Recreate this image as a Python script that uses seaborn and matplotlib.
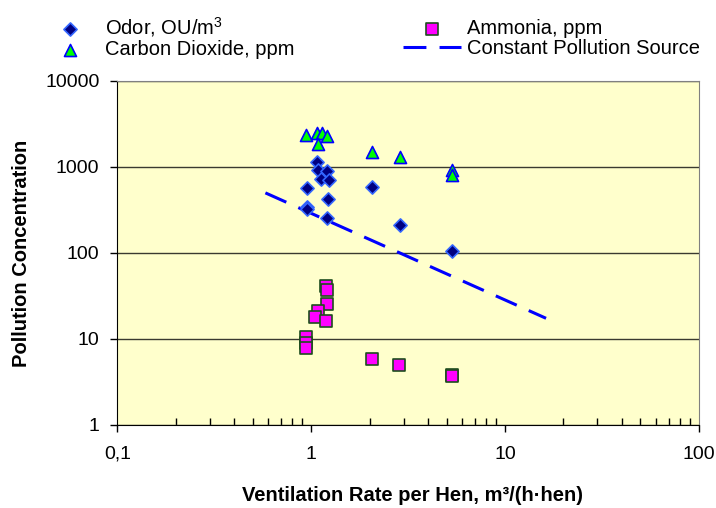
import numpy as np
import matplotlib
matplotlib.use('Agg')
import matplotlib.pyplot as plt
from matplotlib.ticker import FixedLocator, FixedFormatter, LogLocator, NullFormatter
import seaborn as sns

# data (log-log scatter)
odor_x = [1.07, 1.08, 1.20, 1.12, 1.23, 0.95, 2.07, 1.22, 0.95, 0.95, 1.20, 2.87, 5.36]
odor_y = [1150, 920, 900, 720, 705, 575, 590, 420, 345, 325, 253, 212, 106]

co2_x = [0.945, 1.07, 1.14, 1.21, 1.09, 2.07, 2.87, 5.36, 5.36]
co2_y = [2355, 2505, 2466, 2312, 1836, 1483, 1297, 923, 807]

nh3_x = [1.19, 1.21, 1.21, 1.08, 1.05, 1.19, 0.945, 0.945, 0.945, 2.06, 2.83, 5.32, 5.32]
nh3_y = [41.7, 37, 25.5, 21.3, 17.9, 16.3, 10.6, 9.05, 7.8, 5.9, 5.0, 3.8, 3.7]

line_x = [0.58, 16.3]
line_y = [500, 17.4]

x_ticks = [0.1, 1, 10, 100]
x_labels = ['0,1', '1', '10', '100']
y_ticks = [1, 10, 100, 1000, 10000]
y_labels = ['1', '10', '100', '1000', '10000']

plt.rcParams['font.family'] = ['Liberation Sans', 'DejaVu Sans']
plt.rcParams['mathtext.fontset'] = 'custom'
plt.rcParams['mathtext.rm'] = 'Liberation Sans'
plt.rcParams['mathtext.bf'] = 'Liberation Sans:bold'

fig, ax = plt.subplots(figsize=(7.16, 5.08), dpi=100)
fig.subplots_adjust(left=0.1641, right=0.9758, bottom=0.1634, top=0.8406)
ax.set_facecolor('#FFFFCC')

sns.lineplot(x=line_x, y=line_y, ax=ax, color='#0000FF', linewidth=2.2,
             linestyle=(0, (7.5, 4.3)), label='Constant Pollution Source', zorder=2)
sns.scatterplot(x=odor_x, y=odor_y, ax=ax, marker='D', s=45, color='#000080',
                edgecolor='#3366FF', linewidth=1.2, label='Odor, OU/m$^3$', zorder=3)
sns.scatterplot(x=nh3_x, y=nh3_y, ax=ax, marker='s', s=68, color='#FF00FF',
                edgecolor='#1E4D1E', linewidth=1.2, label='Ammonia, ppm', zorder=3)
sns.scatterplot(x=co2_x, y=co2_y, ax=ax, marker='^', s=75, color='#00FF00',
                edgecolor='#0000FF', linewidth=1.2, label='Carbon Dioxide, ppm', zorder=3)

ax.set_xscale('log')
ax.set_yscale('log')
ax.set_xlim(0.1, 100)
ax.set_ylim(1, 10000)

ax.xaxis.set_major_locator(FixedLocator(x_ticks))
ax.xaxis.set_major_formatter(FixedFormatter(x_labels))
ax.xaxis.set_minor_locator(LogLocator(base=10, subs=np.arange(2, 10)))
ax.xaxis.set_minor_formatter(NullFormatter())
ax.yaxis.set_major_locator(FixedLocator(y_ticks))
ax.yaxis.set_major_formatter(FixedFormatter(y_labels))
ax.yaxis.set_minor_locator(FixedLocator([]))

ax.tick_params(axis='x', which='major', direction='out', length=5, width=1, pad=10, labelsize=14)
ax.tick_params(axis='x', which='minor', direction='in', length=5, width=1)
ax.tick_params(axis='y', which='major', direction='out', length=5, width=1, pad=8, labelsize=14)

ax.grid(axis='y', which='major', color='#3a3a30', linewidth=1)
ax.grid(axis='x', visible=False)
ax.set_axisbelow(True)

for side in ['top', 'right']:
    ax.spines[side].set_color('#808080')
for side in ['left', 'bottom']:
    ax.spines[side].set_color('#000000')

ax.set_xlabel('Ventilation Rate per Hen, m³/(h·hen)', fontsize=14.5, fontweight='bold')
ax.set_ylabel('Pollution Concentration', fontsize=14.5, fontweight='bold')
ax.xaxis.set_label_coords(0.508, -0.176)
ax.yaxis.set_label_coords(-0.149, 0.5)

handles, labels = ax.get_legend_handles_labels()
order = [labels.index(l) for l in ['Odor, OU/m$^3$', 'Carbon Dioxide, ppm',
                                   'Ammonia, ppm', 'Constant Pollution Source']]
ax.get_legend().remove()
fig.legend([handles[i] for i in order], [labels[i] for i in order],
           loc='upper left', bbox_to_anchor=(41 / 716, 1 - 15 / 508), ncol=2,
           frameon=False, fontsize=14.5, borderpad=0, borderaxespad=0,
           handlelength=2.9, handletextpad=0.3, columnspacing=5.35, labelspacing=0.05)

fig.savefig('out.png', dpi=100)
